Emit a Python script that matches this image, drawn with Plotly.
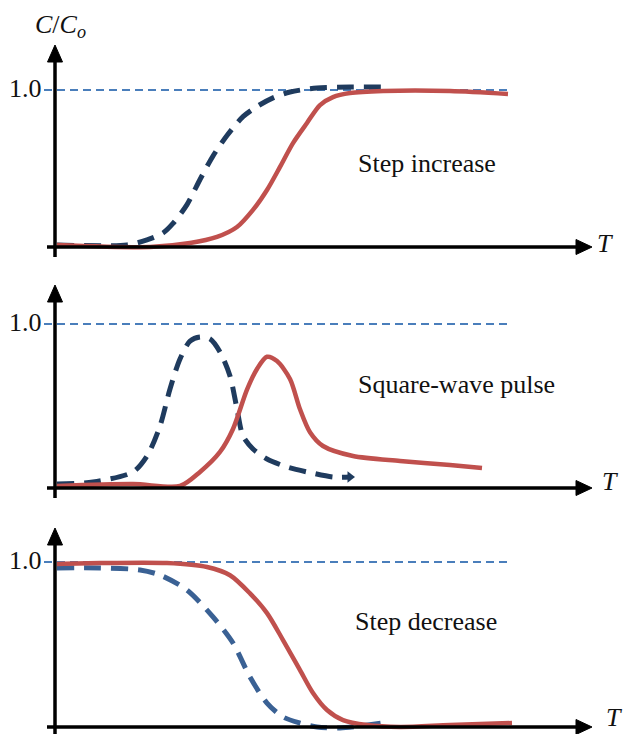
import plotly.graph_objects as go

# ---------------- data (T in arbitrary time units, C/Co dimensionless) ----------------
# Panel 1: step increase
inc_t_dash = [0.04, 1.44, 1.84, 2.16, 2.36, 2.64, 2.9, 3.16, 3.44, 3.76, 4.04, 4.36, 4.7, 5.24, 5.9, 6.56]
inc_c_dash = [0.013, 0.013, 0.045, 0.089, 0.15, 0.27, 0.43, 0.58, 0.71, 0.83, 0.895, 0.95, 0.987, 1.013, 1.019, 1.019]
inc_t_solid = [0.04, 1.9, 2.7, 3.24, 3.64, 3.96, 4.24, 4.5, 4.76, 5.04, 5.3, 5.56, 5.9, 6.56, 7.9, 9.06]
inc_c_solid = [0.013, 0.0, 0.025, 0.064, 0.127, 0.236, 0.363, 0.51, 0.662, 0.79, 0.904, 0.955, 0.981, 0.994, 0.994, 0.975]

# Panel 2: square-wave pulse
pul_t_dash = [0.04, 0.76, 1.56, 1.84, 2.1, 2.3, 2.5, 2.7, 2.9, 3.1, 3.3, 3.5, 3.64, 3.76, 3.96, 4.24, 4.64, 5.04, 5.56, 5.9]
pul_c_dash = [0.024, 0.037, 0.098, 0.195, 0.378, 0.604, 0.787, 0.896, 0.921, 0.909, 0.829, 0.683, 0.482, 0.317, 0.238, 0.177, 0.128, 0.098, 0.067, 0.067]
pul_t_solid = [0.04, 1.56, 2.5, 2.9, 3.3, 3.56, 3.84, 4.04, 4.24, 4.44, 4.7, 4.9, 5.1, 5.36, 5.96, 6.9, 7.9, 8.54]
pul_c_solid = [0.012, 0.024, 0.012, 0.098, 0.22, 0.36, 0.60, 0.726, 0.80, 0.774, 0.665, 0.48, 0.34, 0.256, 0.195, 0.165, 0.14, 0.122]

# Panel 3: step decrease
dec_t_dash = [0.04, 0.9, 1.7, 2.1, 2.64, 3.16, 3.56, 3.9, 4.24, 4.56, 4.9, 5.24, 5.7, 6.54]
dec_c_dash = [0.964, 0.964, 0.952, 0.921, 0.83, 0.667, 0.509, 0.303, 0.145, 0.061, 0.024, 0.0, -0.006, 0.024]
dec_t_solid = [0.04, 0.9, 2.24, 3.04, 3.5, 3.9, 4.24, 4.56, 4.9, 5.16, 5.44, 5.76, 6.24, 6.9, 7.9, 9.14]
dec_c_solid = [0.988, 0.994, 0.994, 0.97, 0.92, 0.81, 0.69, 0.527, 0.345, 0.206, 0.103, 0.042, 0.012, 0.0, 0.012, 0.024]

panel_labels = ["Step increase", "Square-wave pulse", "Step decrease"]
ref_level = 1.0
ref_label = "1.0"
y_title = "<i>C</i>/<i>C</i><sub><i>o</i></sub>"
x_title = "<i>T</i>"

# ---------------- layout constants ----------------
W, H = 629, 734
X0_PX, PX_PER_T = 55, 50           # T=0 at x=55 px
# per panel: pixel row of C=0, pixel row of C=1, y-arrow tip row, label centres (px)
panels = [
    dict(base=247, one=90, tip=45, lab=(427, 163), tlab=(605, 243), dcol="#1F3B5E",
         t_d=inc_t_dash, c_d=inc_c_dash, t_s=inc_t_solid, c_s=inc_c_solid),
    dict(base=488, one=324, tip=285, lab=(456, 384), tlab=(610, 481), dcol="#1F3B5E",
         t_d=pul_t_dash, c_d=pul_c_dash, t_s=pul_t_solid, c_s=pul_c_solid),
    dict(base=727, one=562, tip=528, lab=(426, 621), tlab=(614, 717), dcol="#3A6194",
         t_d=dec_t_dash, c_d=dec_c_dash, t_s=dec_t_solid, c_s=dec_c_solid),
]
RED = "#C0504D"
REF_BLUE = "#4A7EBB"
SERIF = "Liberation Serif"
TXT = "#111111"

fig = go.Figure()
shapes, annotations = [], []
layout_axes = {}


def tx(px):
    return (px - X0_PX) / PX_PER_T


for i, p in enumerate(panels):
    sfx = "" if i == 0 else str(i + 1)
    xa, ya = "x" + sfx, "y" + sfx
    s = p["base"] - p["one"]

    def vy(py, p=p, s=s):
        return (p["base"] - py) / s

    layout_axes["xaxis" + sfx] = dict(domain=[0, 1], range=[tx(0), tx(W)], visible=False,
                                      fixedrange=True, anchor=ya)
    layout_axes["yaxis" + sfx] = dict(domain=[0, 1], range=[vy(H), vy(0)], visible=False,
                                      fixedrange=True, anchor=xa)

    # reference dashed line at C/Co = 1.0
    shapes.append(dict(type="line", xref=xa, yref=ya, x0=tx(44), x1=tx(508), y0=ref_level, y1=ref_level,
                       line=dict(color=REF_BLUE, width=2, dash="8px,5px"), layer="below"))

    # curves
    fig.add_trace(go.Scatter(x=p["t_d"], y=p["c_d"], mode="lines", xaxis=xa, yaxis=ya,
                             line=dict(color=p["dcol"], width=5, dash="17px,10px", shape="spline", smoothing=0.8),
                             showlegend=False, hoverinfo="skip"))
    fig.add_trace(go.Scatter(x=p["t_s"], y=p["c_s"], mode="lines", xaxis=xa, yaxis=ya,
                             line=dict(color=RED, width=4.5, shape="spline", smoothing=0.8),
                             showlegend=False, hoverinfo="skip"))
    if i == 1:
        # arrowhead at the end of the dashed pulse curve
        fig.add_trace(go.Scatter(x=p["t_d"][-1:], y=p["c_d"][-1:], mode="markers", xaxis=xa, yaxis=ya,
                                 marker=dict(symbol="triangle-right", size=10, color=p["dcol"]),
                                 showlegend=False, hoverinfo="skip"))

    # axes with arrowheads
    x_tip_px = 592
    shapes.append(dict(type="line", xref=xa, yref=ya, x0=tx(47), x1=tx(x_tip_px - 10), y0=0, y1=0,
                       line=dict(color="black", width=3.5)))
    shapes.append(dict(type="path", xref=xa, yref=ya,
                       path=f"M {tx(x_tip_px)},0 L {tx(x_tip_px-16)},{vy(p['base']-7.5)} "
                            f"L {tx(x_tip_px-16)},{vy(p['base']+7.5)} Z",
                       fillcolor="black", line=dict(color="black", width=1)))
    shapes.append(dict(type="line", xref=xa, yref=ya, x0=0, x1=0,
                       y0=vy(min(p["base"] + 10, H)), y1=vy(p["tip"] + 10),
                       line=dict(color="black", width=3.5)))
    shapes.append(dict(type="path", xref=xa, yref=ya,
                       path=f"M 0,{vy(p['tip'])} L {tx(X0_PX-7.5)},{vy(p['tip']+17)} "
                            f"L {tx(X0_PX+7.5)},{vy(p['tip']+17)} Z",
                       fillcolor="black", line=dict(color="black", width=1)))

    # texts
    annotations.append(dict(xref=xa, yref=ya, x=tx(44), y=ref_level + 2 / s, text=ref_label,
                            showarrow=False, xanchor="right", yanchor="middle",
                            font=dict(family=SERIF, size=26, color=TXT)))
    annotations.append(dict(xref=xa, yref=ya, x=tx(p["lab"][0]), y=vy(p["lab"][1]), text=panel_labels[i],
                            showarrow=False, xanchor="center", yanchor="middle",
                            font=dict(family=SERIF, size=26, color=TXT)))
    annotations.append(dict(xref=xa, yref=ya, x=tx(p["tlab"][0]), y=vy(p["tlab"][1]), text=x_title,
                            showarrow=False, xanchor="center", yanchor="middle",
                            font=dict(family=SERIF, size=26, color=TXT)))

# y-axis title
annotations.append(dict(xref="x", yref="y", x=tx(60), y=(247 - 26) / 157, text=y_title,
                        showarrow=False, xanchor="center", yanchor="middle",
                        font=dict(family=SERIF, size=26, color=TXT)))

fig.update_layout(width=W, height=H, margin=dict(l=0, r=0, t=0, b=0),
                  paper_bgcolor="white", plot_bgcolor="rgba(0,0,0,0)",
                  font=dict(family=SERIF),
                  shapes=shapes, annotations=annotations, **layout_axes)

fig.write_html("out.html", config={"displayModeBar": False, "staticPlot": True},
               post_script="document.body.style.margin='0';document.body.style.overflow='hidden';")
